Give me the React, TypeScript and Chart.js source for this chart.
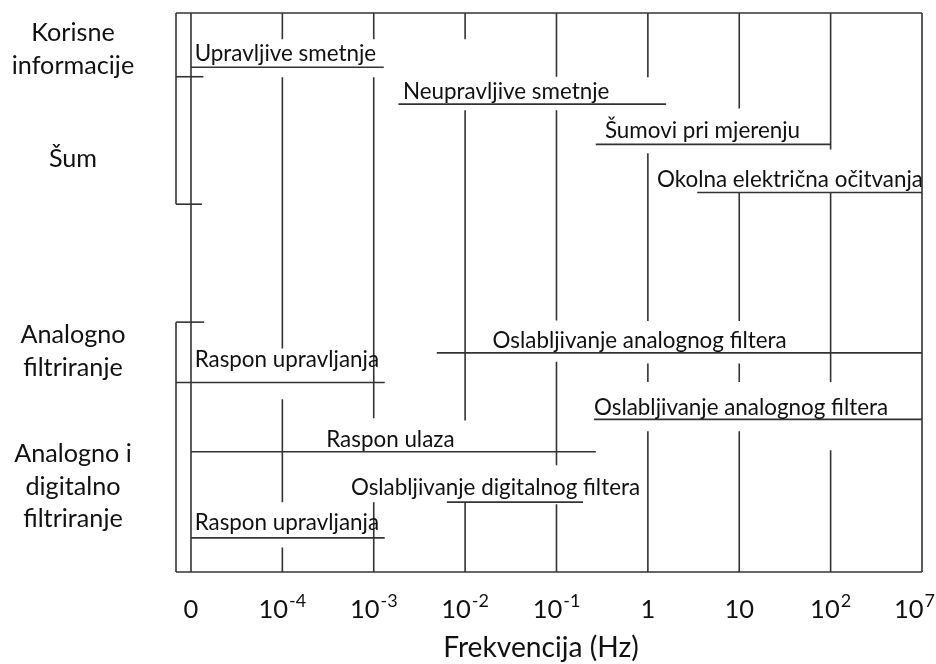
import React, { useEffect, useRef } from 'react';
import { Chart, registerables } from 'chart.js';

Chart.register(...registerables);

// ---------- data ----------
// x axis: positions 0..8 correspond to these tick labels
const tickBases = ['0', '10', '10', '10', '10', '1', '10', '10', '10'];
const tickExps = ['', '-4', '-3', '-2', '-1', '', '', '2', '7'];
const axisTitle = 'Frekvencija (Hz)';

const X_MIN = -0.164;
const X_MAX = 8;

// frequency ranges (horizontal lines, y in 0..100, top = 100)
const rangeNames = [
  'Upravljive smetnje',
  'Neupravljive smetnje',
  'Šumovi pri mjerenju',
  'Okolna električna očitvanja',
  'Oslabljivanje analognog filtera',
  'Raspon upravljanja',
  'Oslabljivanje analognog filtera',
  'Raspon ulaza',
  'Oslabljivanje digitalnog filtera',
  'Raspon upravljanja',
];
const rangeLevel = [90.3, 83.7, 76.5, 67.9, 39.2, 33.9, 27.3, 21.5, 12.5, 6.1];
const rangeFrom = [0, 2.27, 4.43, 5.54, 2.69, X_MIN, 4.41, 0, 2.8, 0];
const rangeTo = [2.11, 5.2, 7, 8, 8, 2.12, 8, 4.43, 4.29, 2.12];
const labelFrom = [0.04, 2.32, 4.53, 5.1, 3.3, 0.04, 4.41, 1.48, 1.75, 0.04];
const labelLevel = [91.4, 84.7, 77.6, 68.9, 40.1, 36.7, 28.0, 22.3, 13.7, 7.6];

// vertical grid lines at each tick, drawn as [from, to] pieces
const gridSegments: number[][][] = [
  [[0, 100]],
  [[95.3, 100], [40.0, 88.5], [12.5, 30.9], [0, 4.4]],
  [[95.3, 100], [27.5, 88.5], [0, 12.5]],
  [[95.3, 100], [27.1, 82.6], [0, 12.5]],
  [[88.6, 100], [45.0, 82.6], [19.1, 37.6], [0, 12.1]],
  [[88.5, 100], [44.9, 74.9], [34.0, 37.3], [0, 25.2]],
  [[82.9, 100], [44.9, 67.8], [34.0, 37.3], [0, 25.2]],
  [[75.6, 100], [34.0, 67.8], [0, 21.8]],
  [[0, 100]],
];

// left frame edge pieces and group brackets
const leftEdgeSegments = [[65.8, 100], [0, 44.7]];
const bracketLevel = [88.6, 65.8, 44.7];
const bracketTo = [0.135, 0.12, 0.145];

// group labels on the left
const groupLines = [
  ['Korisne', 'informacije'],
  ['Šum'],
  ['Analogno', 'filtriranje'],
  ['Analogno i', 'digitalno', 'filtriranje'],
];
const groupLevel = [95.0, 72.5, 40.9, 19.7];

// ---------- styles ----------
const LINE_COLOR = '#333333';
const TEXT_COLOR = '#111111';
const FONT = 'Lato, "Noto Sans", sans-serif';
const IN_SIZE = 22.4;
const LEFT_SIZE = 25.2;
const TICK_SIZE = 25.5;
const EXP_SIZE = 18;
const TITLE_SIZE = 28.2;

type P = { x: number; y: number | null };

function verticalPoints(x: number, segs: number[][]): P[] {
  const pts: P[] = [];
  segs.forEach(([a, b]) => {
    pts.push({ x, y: a }, { x, y: b }, { x, y: null });
  });
  return pts;
}

function lineDs(label: string, data: P[]) {
  return {
    type: 'scatter' as const,
    label,
    data,
    showLine: true,
    spanGaps: false,
    borderColor: LINE_COLOR,
    backgroundColor: LINE_COLOR,
    borderWidth: 1.6,
    pointRadius: 0,
    pointHoverRadius: 0,
    clip: false as any,
  };
}

const textPlugin = {
  id: 'diagramText',
  afterDatasetsDraw(chart: any) {
    const { ctx, chartArea } = chart;
    const xs = chart.scales.x;
    const ys = chart.scales.y;
    ctx.save();
    ctx.fillStyle = TEXT_COLOR;
    ctx.textBaseline = 'alphabetic';

    // range labels
    ctx.font = `${IN_SIZE}px ${FONT}`;
    ctx.textAlign = 'left';
    rangeNames.forEach((name, i) => {
      ctx.fillText(name, xs.getPixelForValue(labelFrom[i]), ys.getPixelForValue(labelLevel[i]));
    });

    // group labels
    ctx.font = `${LEFT_SIZE}px ${FONT}`;
    ctx.textAlign = 'center';
    const gx = chartArea.left - 103;
    groupLines.forEach((lines, i) => {
      const y0 = ys.getPixelForValue(groupLevel[i]);
      lines.forEach((t, j) => ctx.fillText(t, gx, y0 + j * 32.8));
    });

    // tick labels with superscripts
    ctx.textAlign = 'left';
    const baseY = chartArea.bottom + 45.6;
    tickBases.forEach((b, i) => {
      ctx.font = `${TICK_SIZE}px ${FONT}`;
      const wb = ctx.measureText(b).width;
      ctx.font = `${EXP_SIZE}px ${FONT}`;
      const e = tickExps[i];
      const we = e ? ctx.measureText(e).width + 1 : 0;
      const total = wb + we;
      let left = xs.getPixelForValue(i) - total / 2;
      if (left + total > chart.width - 1) left = chart.width - 1 - total;
      ctx.font = `${TICK_SIZE}px ${FONT}`;
      ctx.fillText(b, left, baseY);
      if (e) {
        ctx.font = `${EXP_SIZE}px ${FONT}`;
        ctx.fillText(e, left + wb + 1, baseY - 10.5);
      }
    });

    // axis title
    ctx.font = `${TITLE_SIZE}px ${FONT}`;
    ctx.textAlign = 'center';
    ctx.fillText(axisTitle, (chartArea.left + chartArea.right) / 2 - 8, chartArea.bottom + 85);

    ctx.restore();
  },
};

export default function App() {
  const ref = useRef<HTMLCanvasElement | null>(null);

  useEffect(() => {
    document.body.style.margin = '0';
    const canvas = ref.current;
    if (!canvas) return;

    const datasets: any[] = [];
    // frame: top and bottom
    datasets.push(lineDs('frame-top', [{ x: X_MIN, y: 100 }, { x: X_MAX, y: 100 }]));
    datasets.push(lineDs('frame-bottom', [{ x: X_MIN, y: 0 }, { x: X_MAX, y: 0 }]));
    datasets.push(lineDs('frame-left', verticalPoints(X_MIN, leftEdgeSegments)));
    bracketLevel.forEach((lv, i) => {
      datasets.push(lineDs('bracket-' + i, [{ x: X_MIN, y: lv }, { x: bracketTo[i], y: lv }]));
    });
    gridSegments.forEach((segs, i) => {
      datasets.push(lineDs('grid-' + i, verticalPoints(i, segs)));
    });
    rangeNames.forEach((name, i) => {
      datasets.push(
        lineDs(name, [
          { x: rangeFrom[i], y: rangeLevel[i] },
          { x: rangeTo[i], y: rangeLevel[i] },
        ])
      );
    });

    const chart = new Chart(canvas, {
      type: 'scatter',
      data: { datasets },
      options: {
        animation: false,
        responsive: false,
        devicePixelRatio: 1,
        layout: { padding: { left: 176, right: 14, top: 13, bottom: 92 } },
        plugins: {
          legend: { display: false },
          tooltip: { enabled: false },
        },
        events: [],
        scales: {
          x: { type: 'linear', min: X_MIN, max: X_MAX, display: false },
          y: { type: 'linear', min: 0, max: 100, display: false },
        },
      },
      plugins: [textPlugin],
    });
    return () => chart.destroy();
  }, []);

  return (
    <div style={{ width: 936, height: 664, background: '#fff' }}>
      <canvas ref={ref} width={936} height={664} />
    </div>
  );
}
